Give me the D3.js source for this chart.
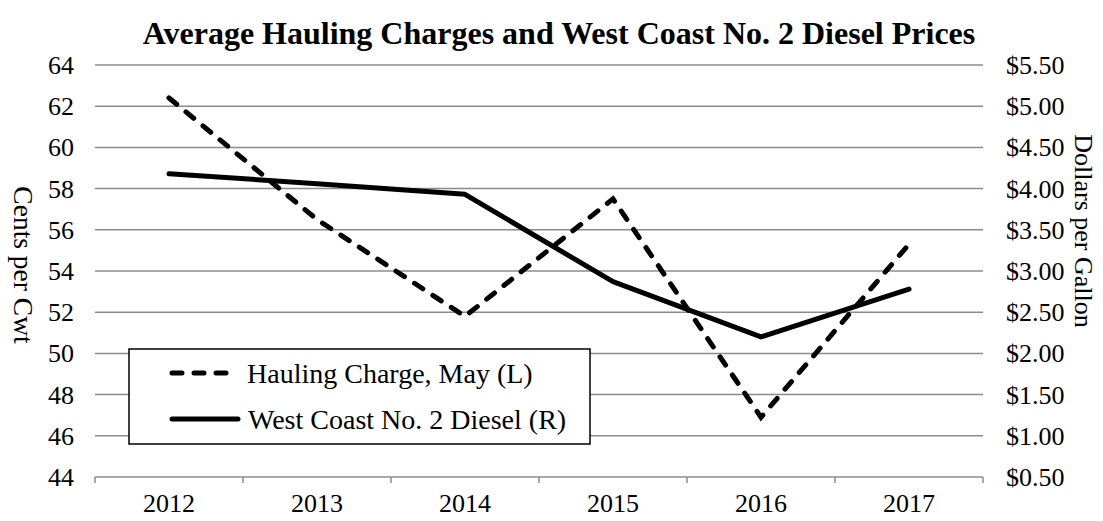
<!DOCTYPE html>
<html>
  <head>
    <meta charset="utf-8">
    <script src="https://cdn.jsdelivr.net/npm/d3@7"></script>
    <style>
      body { margin: 0; background: white; }
      text { font-family: "Liberation Serif", "Times New Roman", serif; fill: black; }
      .grid line { stroke: #8c8c8c; stroke-width: 1.5px; }
    </style>
  </head>
  <body>
    <div id="chart"></div>
    <script>
      // values
      var years = ["2012", "2013", "2014", "2015", "2016", "2017"];
      var hauling = [62.4, 56.5, 51.8, 57.5, 46.9, 55.3];   // cents per cwt (left)
      var diesel = [4.18, 4.06, 3.93, 2.87, 2.20, 2.78];     // dollars per gallon (right)
      var leftTicks = [44, 46, 48, 50, 52, 54, 56, 58, 60, 62, 64];
      var rightTicks = [0.5, 1, 1.5, 2, 2.5, 3, 3.5, 4, 4.5, 5, 5.5];

      var width = 1103, height = 521;
      var margin = {top: 65, right: 120, bottom: 44, left: 95};

      var svg = d3.select("#chart").append("svg")
          .attr("width", width)
          .attr("height", height);

      var x = d3.scaleBand().domain(years)
          .range([margin.left, width - margin.right]);
      var yL = d3.scaleLinear().domain([44, 64])
          .range([height - margin.bottom, margin.top]);
      var yR = d3.scaleLinear().domain([0.5, 5.5])
          .range([height - margin.bottom, margin.top]);

      // gridlines
      svg.append("g").attr("class", "grid")
        .selectAll("line").data(leftTicks).enter().append("line")
          .attr("x1", margin.left).attr("x2", width - margin.right)
          .attr("y1", d => yL(d)).attr("y2", d => yL(d));

      // x axis tick marks at band edges
      var edges = years.map(d => x(d)).concat([x.range()[1]]);
      svg.append("g").attr("class", "grid")
        .selectAll("line").data(edges).enter().append("line")
          .attr("x1", d => d).attr("x2", d => d)
          .attr("y1", yL(44)).attr("y2", yL(44) + 6);

      // x labels
      svg.append("g").selectAll("text").data(years).enter().append("text")
          .attr("x", d => x(d) + x.bandwidth() / 2)
          .attr("y", 512)
          .attr("text-anchor", "middle")
          .style("font-size", "26px")
          .text(d => d);

      // left labels
      svg.append("g").selectAll("text").data(leftTicks).enter().append("text")
          .attr("x", 74)
          .attr("y", d => yL(d) + 9)
          .attr("text-anchor", "end")
          .style("font-size", "26px")
          .text(d => d);

      // right labels
      svg.append("g").selectAll("text").data(rightTicks).enter().append("text")
          .attr("x", 1006)
          .attr("y", d => yR(d) + 9)
          .style("font-size", "26px")
          .text(d => "$" + d.toFixed(2));

      // axis titles
      svg.append("text")
          .attr("transform", "translate(14,265) rotate(90)")
          .attr("text-anchor", "middle")
          .style("font-size", "27.5px")
          .text("Cents per Cwt");

      svg.append("text")
          .attr("transform", "translate(1075,231) rotate(90)")
          .attr("text-anchor", "middle")
          .style("font-size", "26px")
          .text("Dollars per Gallon");

      // title
      svg.append("text")
          .attr("x", 559).attr("y", 44)
          .attr("text-anchor", "middle")
          .style("font-size", "32px")
          .style("font-weight", "bold")
          .text("Average Hauling Charges and West Coast No. 2 Diesel Prices");

      var cx = d => x(d) + x.bandwidth() / 2;

      var haulLine = d3.line()
          .x((d, i) => cx(years[i]))
          .y(d => yL(d));
      var dieselLine = d3.line()
          .x((d, i) => cx(years[i]))
          .y(d => yR(d));

      svg.append("path")
          .datum(diesel)
          .attr("d", dieselLine)
          .attr("fill", "none")
          .attr("stroke", "black")
          .attr("stroke-width", 5)
          .attr("stroke-linecap", "round")
          .attr("stroke-linejoin", "round");

      svg.append("path")
          .datum(hauling)
          .attr("d", haulLine)
          .attr("fill", "none")
          .attr("stroke", "black")
          .attr("stroke-width", 5)
          .attr("stroke-dasharray", "10,12")
          .attr("stroke-linecap", "round");

      // legend
      var lg = svg.append("g");
      lg.append("rect")
          .attr("x", 129).attr("y", 349)
          .attr("width", 461).attr("height", 95)
          .attr("fill", "white")
          .attr("stroke", "black")
          .attr("stroke-width", 1.5);

      lg.append("line")
          .attr("x1", 172).attr("x2", 232)
          .attr("y1", 373).attr("y2", 373)
          .attr("stroke", "black").attr("stroke-width", 5)
          .attr("stroke-dasharray", "10,12")
          .attr("stroke-linecap", "round");
      lg.append("text")
          .attr("x", 247).attr("y", 383)
          .style("font-size", "28px")
          .text("Hauling Charge, May (L)");

      lg.append("line")
          .attr("x1", 172).attr("x2", 238)
          .attr("y1", 419).attr("y2", 419)
          .attr("stroke", "black").attr("stroke-width", 5)
          .attr("stroke-linecap", "round");
      lg.append("text")
          .attr("x", 248).attr("y", 429)
          .style("font-size", "28px")
          .text("West Coast No. 2 Diesel (R)");
    </script>
  </body>
</html>
